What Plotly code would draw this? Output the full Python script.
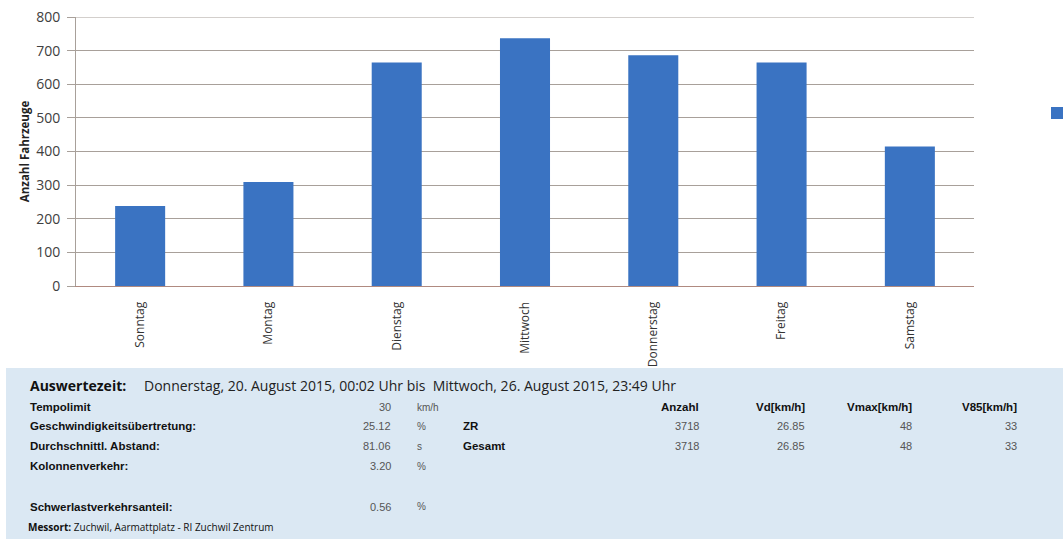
import plotly.graph_objects as go

# chart data
days = ['Sonntag', 'Montag', 'Dienstag', 'Mittwoch', 'Donnerstag', 'Freitag', 'Samstag']
counts = [238, 309, 665, 737, 686, 665, 415]
y_top = 800

# info panel data
row_labels = ['Tempolimit', 'Geschwindigkeitsübertretung:', 'Durchschnittl. Abstand:',
              'Kolonnenverkehr:', 'Schwerlastverkehrsanteil:']
row_values = ['30', '25.12', '81.06', '3.20', '0.56']
row_units = ['km/h', '%', 's', '%', '%']
table_header = ['Anzahl', 'Vd[km/h]', 'Vmax[km/h]', 'V85[km/h]']
table_rows = ['ZR', 'Gesamt']
table_zr = ['3718', '26.85', '48', '33']
table_gesamt = ['3718', '26.85', '48', '33']

W, H = 1063, 539
# plot area in pixels
L, R, T, B = 76, 974, 17, 286
GRID = '#a8a09a'


def px(x):
    return (x - L) / (R - L)


def py(y):
    return (B - y) / (B - T)


fig = go.Figure(go.Bar(x=days, y=counts, marker_color='#3a73c2', marker_line_width=0,
                       name=' ', showlegend=True))

fig.update_layout(
    width=W, height=H,
    margin=dict(l=L, r=W - R, t=T, b=H - B, autoexpand=False),
    plot_bgcolor='white', paper_bgcolor='white',
    bargap=0.61,
    font=dict(family='Open Sans, Arial', color='#333'),
    legend=dict(x=px(1037), y=py(113), xanchor='left', yanchor='middle', itemwidth=30,
                font=dict(size=10), bgcolor='rgba(0,0,0,0)'),
    yaxis=dict(range=[0, y_top], dtick=100, showgrid=True, gridcolor=GRID, gridwidth=1,
               showline=True, linecolor=GRID, ticks='outside', ticklen=8, tickcolor=GRID,
               ticklabelstandoff=4, ticklabeloverflow='allow',
               tickfont=dict(size=14, color='#404040'), zeroline=False, automargin=False,
               title=dict(text='<b>Anzahl Fahrzeuge</b>', font=dict(size=11.5, color='#222'), standoff=4)),
    xaxis=dict(showline=True, linecolor='#b08a80', tickangle=-90, ticks='', automargin=False,
               ticklabelstandoff=10, ticklabeloverflow='allow',
               tickfont=dict(size=12, color='#333'), showgrid=False),
)

anns = []
shapes = [dict(type='rect', xref='paper', yref='paper', x0=px(6), x1=px(W + 5), y0=py(368), y1=py(H + 5),
               fillcolor='#dbe8f3', line_width=0, layer='below'),
          # top gridline at the end of the range
          dict(type='line', xref='paper', yref='y', x0=0, x1=1, y0=y_top, y1=y_top,
               line=dict(color=GRID, width=1), layer='below')]


def txt(x, y, s, size=12, bold=False, color='#111', anchor='left', family='Liberation Sans, Arial'):
    anns.append(dict(x=px(x), y=py(y), xref='paper', yref='paper', showarrow=False,
                     text=('<b>%s</b>' % s) if bold else s, xanchor=anchor, yanchor='middle',
                     borderpad=0, font=dict(size=size, color=color, family=family)))


txt(29, 386, 'Auswertezeit:', size=14, bold=True, family='Open Sans, Arial')
txt(143, 386, 'Donnerstag, 20. August 2015, 00:02 Uhr bis  Mittwoch, 26. August 2015, 23:49 Uhr',
    size=14, family='Open Sans, Arial', color='#222')

row_y = [407, 426, 446, 466, 507]
for lab, val, unit, y in zip(row_labels, row_values, row_units, row_y):
    txt(29, y, lab, bold=True, size=11.5)
    txt(392, y, val, anchor='right', color='#555', size=11)
    txt(416, y, unit, color='#555', size=10)

col_x = [700, 806, 913, 1018]
for h, x in zip(table_header, col_x):
    txt(x, 407, h, bold=True, anchor='right', size=11.5)
for name, vals, y in zip(table_rows, [table_zr, table_gesamt], [426, 446]):
    txt(462, y, name, bold=True, size=11.5)
    for v, x in zip(vals, col_x):
        txt(x, y, v, anchor='right', color='#555', size=11)

txt(27, 527, '<b>Messort:</b> Zuchwil, Aarmattplatz - RI Zuchwil Zentrum', size=10, family='Open Sans, Arial')

fig.update_layout(annotations=anns, shapes=shapes)
# drop the default body margin so the figure fills the window exactly
fig.write_html('out.html', config={'displayModeBar': False},
               post_script="document.body.style.margin='0px';document.body.style.overflow='hidden';")
